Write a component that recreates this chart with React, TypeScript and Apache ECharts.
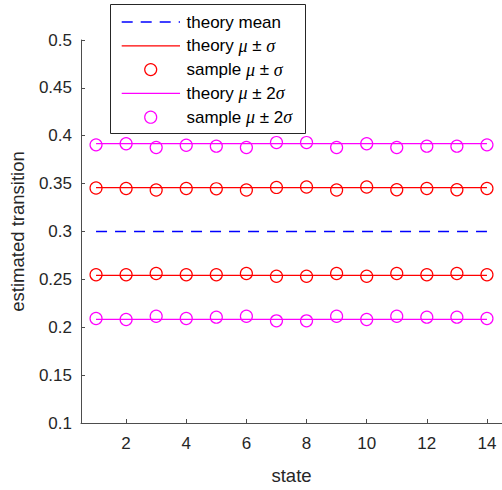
import React, { useEffect, useRef } from "react";
import * as echarts from "echarts";

const states = [1, 2, 3, 4, 5, 6, 7, 8, 9, 10, 11, 12, 13, 14];
const xTicks = [2, 4, 6, 8, 10, 12, 14];

const theoryMean = [0.3, 0.3, 0.3, 0.3, 0.3, 0.3, 0.3, 0.3, 0.3, 0.3, 0.3, 0.3, 0.3, 0.3];
const theory1Upper = [0.3458, 0.3458, 0.3458, 0.3458, 0.3458, 0.3458, 0.3458, 0.3458, 0.3458, 0.3458, 0.3458, 0.3458, 0.3458, 0.3458];
const theory1Lower = [0.2542, 0.2542, 0.2542, 0.2542, 0.2542, 0.2542, 0.2542, 0.2542, 0.2542, 0.2542, 0.2542, 0.2542, 0.2542, 0.2542];
const theory2Upper = [0.3917, 0.3917, 0.3917, 0.3917, 0.3917, 0.3917, 0.3917, 0.3917, 0.3917, 0.3917, 0.3917, 0.3917, 0.3917, 0.3917];
const theory2Lower = [0.2083, 0.2083, 0.2083, 0.2083, 0.2083, 0.2083, 0.2083, 0.2083, 0.2083, 0.2083, 0.2083, 0.2083, 0.2083, 0.2083];

const sample1Upper = [0.3454, 0.3449, 0.3433, 0.3449, 0.3446, 0.3433, 0.346, 0.3465, 0.3433, 0.3465, 0.3436, 0.3449, 0.3436, 0.3449];
const sample1Lower = [0.2548, 0.2548, 0.2561, 0.2548, 0.2548, 0.2561, 0.2533, 0.2533, 0.2561, 0.2533, 0.2561, 0.2548, 0.2561, 0.2548];
const sample2Upper = [0.3905, 0.3916, 0.3877, 0.3901, 0.3891, 0.3877, 0.3929, 0.3929, 0.3877, 0.3916, 0.3877, 0.3891, 0.3891, 0.3905];
const sample2Lower = [0.2091, 0.2081, 0.2115, 0.2091, 0.2105, 0.2115, 0.2067, 0.2067, 0.2115, 0.2081, 0.2115, 0.2105, 0.2105, 0.2091];

const legendNames = [
  "theory mean",
  "theory μ ± σ",
  "sample μ ± σ",
  "theory μ ± 2σ",
  "sample μ ± 2σ",
];

const BLUE = "#0000ff";
const RED = "#ff0000";
const MAGENTA = "#ff00ff";
const TEXT = "#262626";
const AXIS = "#4d4d4d";
const FONT = "'Liberation Sans', Arial, Helvetica, sans-serif";
const SERIF = "'Liberation Serif', 'DejaVu Serif', serif";

const pairs = (ys: number[]) => states.map((s, i) => [s, ys[i]]);

export default function App() {
  const ref = useRef<HTMLDivElement>(null);
  useEffect(() => {
    if (!ref.current) return;
    const chart = echarts.init(ref.current, undefined, { renderer: "svg" });
    const lineSeries = (name: string, data: number[], color: string, dashed = false) => ({
      name,
      type: "line",
      data: pairs(data),
      symbol: "none",
      color,
      lineStyle: { color, width: 1.3, type: dashed ? [11, 8] : "solid", opacity: 1 },
      itemStyle: { color },
      emphasis: { disabled: true },
      silent: true,
      z: 2,
    });
    const scatterSeries = (name: string, data: number[], color: string) => ({
      name,
      type: "scatter",
      data: pairs(data),
      symbol: "circle",
      symbolSize: 12,
      itemStyle: { color: "none", borderColor: color, borderWidth: 1.2, opacity: 1 },
      emphasis: { disabled: true },
      silent: true,
      z: 3,
    });

    const legendColors = [BLUE, RED, RED, MAGENTA, MAGENTA];
    const legendKinds = ["dash", "line", "circle", "line", "circle"];
    const rowY = (i: number) => 22 + i * 23.8;
    const legendChildren: any[] = [
      {
        type: "rect",
        shape: { x: 110.5, y: 4.5, width: 195, height: 129 },
        style: { fill: "#ffffff", stroke: TEXT, lineWidth: 1 },
      },
    ];
    legendNames.forEach((n, i) => {
      const y = rowY(i);
      const c = legendColors[i];
      if (legendKinds[i] === "circle") {
        legendChildren.push({
          type: "circle",
          shape: { cx: 150.7, cy: y, r: 6 },
          style: { fill: "none", stroke: c, lineWidth: 1.2 },
        });
      } else {
        legendChildren.push({
          type: "line",
          shape: { x1: 121.7, y1: y, x2: 180, y2: y },
          style: { stroke: c, lineWidth: 1.3, lineDash: legendKinds[i] === "dash" ? [11, 8] : null },
        });
      }
      legendChildren.push({
        type: "text",
        x: 186.5,
        y,
        style: {
          text: n.replace("μ", "{i|μ}").replace("σ", "{i|σ}"),
          fontFamily: FONT,
          fontSize: 17,
          fill: "#000000",
          verticalAlign: "middle",
          align: "left",
          rich: {
            i: { fontFamily: SERIF, fontStyle: "italic", fontSize: 18, fill: "#000000" },
          },
        },
      });
    });

    chart.setOption({
      animation: false,
      backgroundColor: "#ffffff",
      textStyle: { fontFamily: FONT },
      grid: { left: 80, top: 40, width: 423.5, height: 383 },
      graphic: [{ type: "group", z: 100, children: legendChildren }],
      xAxis: {
        type: "value",
        min: 0.5,
        max: 14.5,
        name: "state",
        nameLocation: "middle",
        nameGap: 43,
        nameTextStyle: { fontFamily: FONT, fontSize: 18.5, color: TEXT },
        axisLine: { show: true, lineStyle: { color: AXIS, width: 1 } },
        axisTick: { show: true, inside: true, length: 4, lineStyle: { color: AXIS }, customValues: xTicks },
        axisLabel: { fontFamily: FONT, fontSize: 17, color: TEXT, margin: 12, customValues: xTicks },
        splitLine: { show: false },
      },
      yAxis: {
        type: "value",
        min: 0.1,
        max: 0.5,
        interval: 0.05,
        name: "estimated transition",
        nameLocation: "middle",
        nameGap: 54,
        nameTextStyle: { fontFamily: FONT, fontSize: 18.5, color: TEXT },
        axisLine: { show: true, lineStyle: { color: AXIS, width: 1 } },
        axisTick: { show: true, inside: true, length: 4, lineStyle: { color: AXIS } },
        axisLabel: { fontFamily: FONT, fontSize: 17, color: TEXT, margin: 9 },
        splitLine: { show: false },
      },
      series: [
        lineSeries(legendNames[0], theoryMean, BLUE, true),
        lineSeries(legendNames[1], theory1Upper, RED),
        lineSeries(legendNames[1], theory1Lower, RED),
        scatterSeries(legendNames[2], sample1Upper, RED),
        scatterSeries(legendNames[2], sample1Lower, RED),
        lineSeries(legendNames[3], theory2Upper, MAGENTA),
        lineSeries(legendNames[3], theory2Lower, MAGENTA),
        scatterSeries(legendNames[4], sample2Upper, MAGENTA),
        scatterSeries(legendNames[4], sample2Lower, MAGENTA),
      ],
    });
    return () => chart.dispose();
  }, []);
  return (
    <div
      ref={ref}
      style={{ position: "fixed", left: 0, top: 0, width: 502, height: 490, background: "#fff" }}
    />
  );
}
